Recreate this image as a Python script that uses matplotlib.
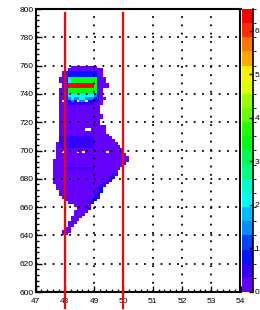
import colorsys

import matplotlib
matplotlib.use("Agg")
import matplotlib.pyplot as plt
import numpy as np
from matplotlib.colors import BoundaryNorm, ListedColormap
from matplotlib.ticker import MultipleLocator

plt.rcParams["font.family"] = ["Liberation Sans", "DejaVu Sans"]

# —— histogram binning ————————————————————————————————
x_lo, x_bin, nx = 47.5, 0.1, 28
y_lo, y_bin = 640, 2
z_max = 6.5
n_levels = 20

# cell code -> bin content
codes = {".": 0.0, "p": 0.3, "v": 0.55, "b": 0.9, "l": 1.6, "c": 2.1, "g": 3.5, "r": 6.3}

# one string per y bin, top row (758-760) first, one char per x bin from 47.5
rows = [
    ".......ppppppppp",
    "......pppppppppppp",
    "....ppbbbbbbbbbbpp",
    "....ppbbbbbbbbbbpp",
    "...pppcgggggggggppp",
    "...pppcgggggggggppp",
    "....pprrrrrrrrrgpppp",
    "....pprrrrrrrrrgpppp",
    "...pppggggggggggpp",
    "...pppggggggggggpp",
    "...pppccccccccclpp",
    "...ppplcllcclllbppp",
    "...p.pblb.ll.bbvpp",
    "...pppvvvvvvvvvppp",
    "...pppppppppppppp",
    "...pppppppppppppp",
    "...pppppppppppppp",
    "...ppppppppppppppp",
    "...ppppppppppppppp",
    "...pppppppppppppp",
    "...pppppppppppppp",
    "...pppppppppppppppp",
    "...ppppppppp..ppppp",
    "...pppppppppppppppp",
    "...ppppppppppppppppp",
    "...vvvvvvvvvvvvpppppp",
    "...vvvvvvvvvvvvppppppp",
    "..pvvvvvvvvvvvvpppppppp",
    "..pvvvvvvvvvvvvppppppppp",
    "..ppppppppppppppppppppppp",
    "..pp.pppp.p.ppppppp.ppppp",
    "..pppppppppppppppppppppppp",
    "..ppppppppppppppppppppppppp",
    ".pppppppppppppppppppppppppp",
    ".ppppppppppppppppppppppppp",
    ".pppppppppppppppppppppppp",
    ".ppppvvvvvvvvvvppppppppp",
    ".pppppppppppppppppppppp",
    ".ppppppppppppppppppppvv",
    ".pppppppppppppppppppvv",
    ".ppppppppppppppppppvv",
    ".pppppppppppppppppvv",
    "..pppppppppppppppvv",
    "..ppppppppppppppbb",
    "...pppppppppppppvb",
    "...ppppppppppppvb",
    "....pppppppppppbv",
    ".....pppppppppvb",
    "......pppppppbv",
    "........pppppp",
    ".........ppppv",
    "........ppppp",
    "........pppp",
    ".......pppp",
    ".......ppp",
    "......ppp",
    "......pp",
    ".....pp",
    "....ppp",
    "....pp",
]

# vertical cut lines
cut_x = [48.0, 50.0]
cut_y = [589, 797]

x_ticks = [47, 48, 49, 50, 51, 52, 53, 54]
y_ticks = [600, 620, 640, 660, 680, 700, 720, 740, 760, 780, 800]
z_ticks = [0, 1, 2, 3, 4, 5, 6]

# —— build the grid ————————————————————————————————————
grid = np.array([[codes[ch] for ch in r.ljust(nx, ".")[:nx]] for r in rows[::-1]])
grid = np.ma.masked_equal(grid, 0.0)
x_edges = x_lo + x_bin * np.arange(nx + 1)
y_edges = y_lo + y_bin * np.arange(len(rows) + 1)

# ROOT "pretty" palette, 20 contour levels
pal = []
for i in range(n_levels):
    k = int((i + 0.99) * 50 / n_levels)
    hue = 280 - (k + 1) * 280 / 50
    pal.append(colorsys.hls_to_rgb(hue / 360, 0.5, 1.0))
cmap = ListedColormap(pal)
norm = BoundaryNorm(np.linspace(0, z_max, n_levels + 1), n_levels)

# —— plot ——————————————————————————————————————————————
fig = plt.figure(figsize=(2.6, 3.1), dpi=100)
ax = fig.add_axes([35.5 / 260, 18 / 310, 205 / 260, 283 / 310])
cax = fig.add_axes([242 / 260, 18 / 310, 11 / 260, 283 / 310])

mesh = ax.pcolormesh(x_edges, y_edges, grid, cmap=cmap, norm=norm, zorder=1)

ax.set_xlim(47, 54)
ax.set_ylim(600, 800)
ax.set_xticks(x_ticks)
ax.set_yticks(y_ticks)
ax.xaxis.set_minor_locator(MultipleLocator(0.2))
ax.yaxis.set_minor_locator(MultipleLocator(4))
ax.tick_params(which="both", direction="in", top=False, right=False, width=1, labelsize=6)
ax.tick_params(which="major", length=4)
ax.tick_params(which="minor", length=2)
ax.tick_params(axis="x", pad=4)
ax.tick_params(axis="y", pad=1.5)
for s in ax.spines.values():
    s.set_linewidth(1.5)

ax.set_axisbelow(False)
ax.grid(which="major", color="black", linestyle=(0, (1, 3.6)), linewidth=1.3)

for xc in cut_x:
    ax.plot([xc, xc], cut_y, color="red", linewidth=1.6, zorder=5, clip_on=False)

cb = fig.colorbar(mesh, cax=cax, ticks=z_ticks)
cb.outline.set_visible(False)
cax.plot([1, 1], [0, 1], transform=cax.transAxes, color="black", lw=1.2, clip_on=False)
cax.tick_params(direction="in", length=3, width=1, labelsize=6, pad=1)

fig.savefig("out.png", dpi=100)
